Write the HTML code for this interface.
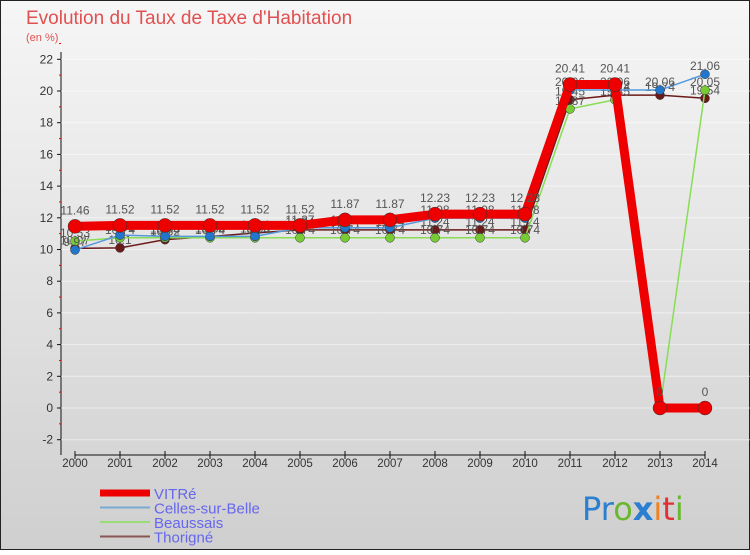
<!DOCTYPE html>
<html><head><meta charset="utf-8"><style>
body{margin:0;width:750px;height:550px;overflow:hidden;font-family:"Liberation Sans",sans-serif}
</style></head><body>
<svg width="750" height="550" xmlns="http://www.w3.org/2000/svg">
<defs><linearGradient id="bg" x1="0" y1="0" x2="0" y2="1"><stop offset="0" stop-color="#f6f6f6"/><stop offset="1" stop-color="#cfcfcf"/></linearGradient></defs>
<rect x="0.5" y="0.5" width="749" height="549" fill="url(#bg)" stroke="#222"/>
<text x="26" y="24" font-size="19" fill="#e05050">Evolution du Taux de Taxe d'Habitation</text>
<text x="26" y="41" font-size="11" fill="#e05050">(en %)</text>
<g id="axes"></g><g id="series"></g><g id="legend"></g>
<text x="582" y="520" font-size="32" font-family="DejaVu Sans"><tspan fill="#2a7fd0">Pr</tspan><tspan fill="#6ab830">o</tspan><tspan fill="#2a7fd0" font-weight="bold">x</tspan><tspan fill="#f08020">i</tspan><tspan fill="#e03030">t</tspan><tspan fill="#6ab830">i</tspan></text>
</svg>
<script>
const years=[2000,2001,2002,2003,2004,2005,2006,2007,2008,2009,2010,2011,2012,2013,2014];
const yTicks=[-2,0,2,4,6,8,10,12,14,16,18,20,22];
const vitre=[11.46,11.52,11.52,11.52,11.52,11.52,11.87,11.87,12.23,12.23,12.23,20.41,20.41,0,0];
const celles=[9.97,10.91,10.83,10.83,10.83,11.37,11.37,11.37,11.98,11.98,11.98,20.06,20.06,20.06,21.06];
const beaussais=[10.53,10.74,10.74,10.74,10.74,10.74,10.74,10.74,10.74,10.74,10.74,18.87,19.45,0,20.05];
const thorigne=[10.07,10.1,10.62,10.82,11.04,11.24,11.24,11.24,11.24,11.24,11.24,19.45,19.74,19.74,19.54];
const NS="http://www.w3.org/2000/svg";
const X=i=>75+i*45, Y=v=>408-v*15.85;
function el(t,a,p){const e=document.createElementNS(NS,t);for(const k in a)e.setAttribute(k,a[k]);p.appendChild(e);return e;}
const ax=document.getElementById('axes');
let l=el('line',{x1:61,y1:52,x2:61,y2:455,stroke:'#111'},ax);


yTicks.forEach(v=>{
 const g=el('line',{x1:61,x2:750,y1:Y(v),y2:Y(v),stroke:'#fff','stroke-opacity':0.5},ax);
 
 
 el('line',{x1:57,x2:61,y1:Y(v),y2:Y(v),stroke:'#111'},ax);
 el('line',{x1:59,x2:61,y1:Y(v+1),y2:Y(v+1),stroke:'#e00'},ax);
 const t=el('text',{x:53,y:Y(v)+4,'font-size':12,fill:'#333','text-anchor':'end'},ax);t.textContent=v;
 
 
});
l=el('line',{x1:75,y1:455,x2:705,y2:455,stroke:'#111'},ax);


years.forEach((y,i)=>{
 el('line',{x1:X(i),x2:X(i),y1:451,y2:459,stroke:'#111'},ax);
 const t=el('text',{x:X(i),y:467,'font-size':11.5,fill:'#333','text-anchor':'middle'},ax);t.textContent=y;
 
 
});
const S=document.getElementById('series');
const defs=[
 {d:thorigne,c:'#6b1a1a',w:1.5,r:4.5,n:'thorigne'},
 {d:beaussais,c:'#88dd55',w:1.5,r:4.5,n:'beaussais',pc:'#77cc33'},
 {d:celles,c:'#5599dd',w:1.5,r:4.5,n:'celles-sur-belle',pc:'#2277cc'},
 {d:vitre,c:'#ee0000',w:9,r:7,n:'vitre'}];
defs.forEach(s=>{
 const p=el('polyline',{points:s.d.map((v,i)=>X(i)+','+Y(v)).join(' '),fill:'none',stroke:s.c,'stroke-width':s.w,'stroke-linejoin':'round'},S);
 
 
 s.d.forEach((v,i)=>{
  const c=el('circle',{cx:X(i),cy:Y(v),r:s.r,fill:s.pc||s.c,stroke:'#333','stroke-width':0.5},S);
  
  
  const t=el('text',{x:X(i),y:Y(v)-(s.n==='vitre'?12:4),'font-size':12,fill:'#555','text-anchor':'middle'},S);
  t.textContent=v;
  
  
 });
});
const L=document.getElementById('legend');
const leg=[['VITRé','#ee0000',7],['Celles-sur-Belle','#7aaad0',2],['Beaussais','#99dd77',2],['Thorigné','#8a5555',2]];
leg.forEach((e,i)=>{
 const y=493+i*14.5;
 const r=el('line',{x1:100,x2:150,y1:y,y2:y,stroke:e[1],'stroke-width':e[2]},L);
 
 
 const t=el('text',{x:154,y:y+6,'font-size':15,fill:'#6666ee'},L);t.textContent=e[0];
 
 
});
</script>
</body></html>
